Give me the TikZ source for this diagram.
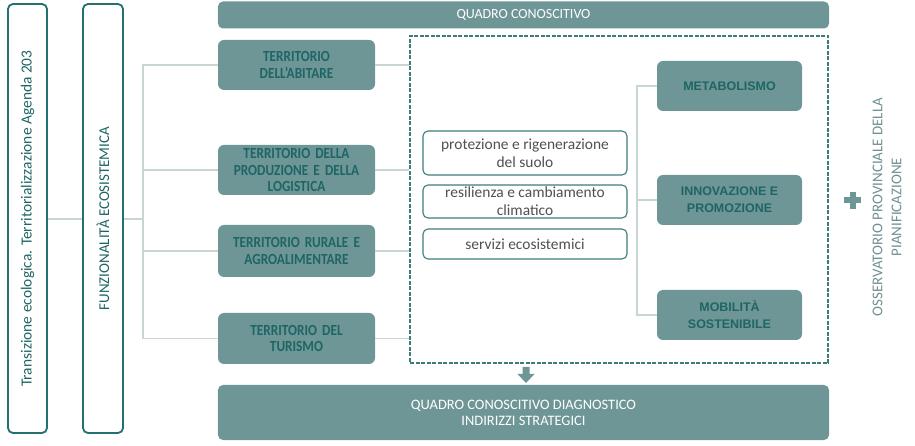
\documentclass[tikz,border=0pt]{standalone}
\usepackage{fontspec}
\setmainfont{Carlito}
\newfontfamily\arialf{Liberation Sans}
\newfontfamily\condf[FakeStretch=0.86,WordSpace=0.7]{Carlito}
\usetikzlibrary{calc}
\definecolor{boxfill}{HTML}{6E9696}
\definecolor{darktxt}{HTML}{1F6565}
\definecolor{linec}{HTML}{C8D5D5}
\definecolor{outl}{HTML}{22706F}
\definecolor{graytxt}{HTML}{505050}
\definecolor{smallb}{HTML}{3E7C7C}
\definecolor{obstxt}{HTML}{6F9090}
\tikzset{
  tallbox/.style={draw=outl, line width=1.8bp, fill=white, rounded corners=5bp, minimum width=39bp, minimum height=429bp, inner sep=0pt},
  terrbox/.style={fill=boxfill, rounded corners=6bp, minimum width=157bp, inner sep=0pt, align=center, text=darktxt, font=\condf\bfseries\fontsize{15.5}{17}\selectfont, text width=155bp},
  bar/.style={fill=boxfill, rounded corners=5bp, minimum width=611bp, inner sep=0pt, align=center, text=white},
  smallbox/.style={draw=smallb, line width=1.1bp, fill=white, rounded corners=5bp, minimum width=204bp, inner sep=0pt, align=center, text=graytxt, font=\fontsize{15.5}{18}\selectfont},
  rightbox/.style={fill=boxfill, rounded corners=6bp, minimum width=145bp, minimum height=50bp, inner sep=0pt, align=center, text=darktxt, font=\arialf\bfseries\fontsize{12.5}{17}\selectfont},
  conn/.style={draw=linec, line width=1.1bp},
}
\begin{document}
\begin{tikzpicture}[x=1bp,y=-1bp]
\useasboundingbox (0,0) rectangle (915,446);
% tall boxes
\node[tallbox] (trans) at (27.5,218.5) {};
\node[rotate=90, text=darktxt, font=\fontsize{15.5}{16}\selectfont] at (trans.center) {Transizione ecologica. Territorializzazione Agenda 203};
\node[tallbox, minimum width=40bp] (funz) at (103,218.5) {};
\node[rotate=90, text=darktxt, font=\fontsize{15}{16}\selectfont] at (funz.center) {FUNZIONALITÀ ECOSISTEMICA};
% top bar
\node[bar, minimum height=27bp, font=\fontsize{14}{15}\selectfont] (qc) at (523.5,15) {QUADRO CONOSCITIVO};
% territorio boxes
\node[terrbox, minimum height=50bp] (t1) at (296.5,65) {TERRITORIO\\DELL’ABITARE};
\node[terrbox, minimum height=50bp] (t2) at (296.5,170) {TERRITORIO DELLA\\PRODUZIONE E DELLA\\LOGISTICA};
\node[terrbox, minimum height=52bp] (t3) at (296.5,251) {TERRITORIO RURALE E\\AGROALIMENTARE};
\node[terrbox, minimum height=51bp] (t4) at (296.5,338.5) {TERRITORIO DEL\\TURISMO};
% dashed frame
\node[draw=smallb, line width=1.6bp, dash pattern=on 4bp off 1.5bp, minimum width=418bp, minimum height=327bp, inner sep=0pt] (frame) at (619,199.5) {};
% small boxes
\node[smallbox, minimum height=44bp] (p1) at (525,153) {protezione e rigenerazione\\del suolo};
\node[smallbox, minimum height=33bp] (p2) at (525,201.5) {resilienza e cambiamento\\climatico};
\node[smallbox, minimum height=30bp] (p3) at (525,244) {servizi ecosistemici};
% right boxes
\node[rightbox] (m1) at (729.5,86) {METABOLISMO};
\node[rightbox] (m2) at (729.5,200) {INNOVAZIONE E\\PROMOZIONE};
\node[rightbox] (m3) at (729.5,315) {MOBILITÀ\\SOSTENIBILE};
% bottom bar
\node[bar, minimum height=55bp, font=\fontsize{14.5}{16}\selectfont] (qd) at (523.5,412.5) {QUADRO CONOSCITIVO DIAGNOSTICO\\INDIRIZZI STRATEGICI};
% plus
\fill[boxfill] (849.5,192) rectangle (855.5,209);
\fill[boxfill] (844,197.5) rectangle (861,203.5);
% osservatorio
\node[rotate=90, align=center, text=obstxt, font=\fontsize{15}{19}\selectfont] (oss) at (887,207) {OSSERVATORIO PROVINCIALE DELLA\\PIANIFICAZIONE};
% connectors
\coordinate (hub) at (143,219);
\draw[conn] (trans.east |- hub) -- (funz.west |- hub);
\draw[conn] (funz.east |- hub) -- (hub);
\draw[conn] (t1.west) -| (hub |- t4.west) -- (t4.west);
\draw[conn] (hub |- t2.west) -- (t2.west);
\draw[conn] (hub |- t3.west) -- (t3.west);
\foreach \t in {t1,t2,t3,t4}{
  \draw[conn] (\t.east) -- (\t.east -| frame.west);
}
\coordinate (br) at (637,200);
\draw[conn] (m1.west) -| (br |- m3.west) -- (m3.west);
\draw[conn] (br |- m2.west) -- (m2.west);
% block arrow
\fill[boxfill] (522.5,367) -- (529.5,367) -- (529.5,374) -- (534.5,374) -- (526,383) -- (517.5,374) -- (522.5,374) -- cycle;
\end{tikzpicture}
\end{document}
